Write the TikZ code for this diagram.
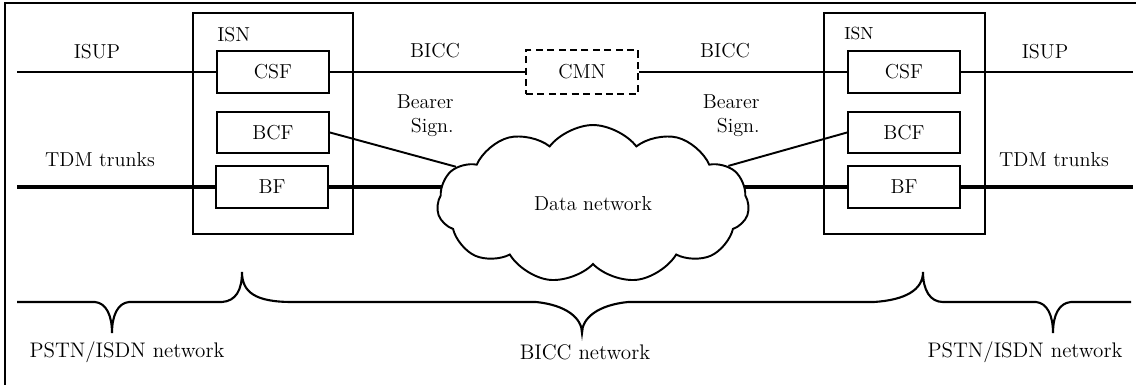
\documentclass[tikz,border=0pt]{standalone}
\usetikzlibrary{shapes.symbols}
\tikzset{
    txt/.style={font=\fontsize{11.5}{14}\selectfont},
    fnbox/.style={
        draw, line width=1.1pt, inner sep=0pt,
        minimum width=2.24cm, minimum height=0.83cm,
        font=\fontsize{11.5}{14}\selectfont
    },
    isnbox/.style={
        draw, line width=1.1pt, inner sep=0pt,
        minimum width=3.21cm, minimum height=4.42cm
    },
    sig/.style={line width=1.1pt},
    trunk/.style={line width=2.8pt},
    brace/.style={line width=1.2pt}
}
\begin{document}
\begin{tikzpicture}[x=0.02cm,y=-0.02cm]
\useasboundingbox (0,0) rectangle (1136,385);
\draw[line width=0.6pt] (5,385) -- (5,3) -- (1136,3);
\node[isnbox] (lisn) at (273,123.5) {};
\node[isnbox] (risn) at (904.5,123.5) {};
\node[txt,anchor=west,inner sep=0pt] (lisnlab) at (217,35) {ISN};
\node[anchor=west,inner sep=0pt,font=\fontsize{10}{12}\selectfont] (risnlab) at (844,34) {ISN};
\node[fnbox,fill=white] (lcsf) at (273,72) {CSF};
\node[fnbox,fill=white] (lbcf) at (273,132.5) {BCF};
\node[fnbox,fill=white] (lbf) at (272,187) {BF};
\node[fnbox,fill=white] (rcsf) at (904,72) {CSF};
\node[fnbox,fill=white] (rbcf) at (904,132.5) {BCF};
\node[fnbox,fill=white] (rbf) at (904,187) {BF};
\node[fnbox,dashed,line width=1.6pt,dash pattern=on 4pt off 2.5pt,minimum height=0.88cm] (cmn) at (582,72) {CMN};
\coordinate (isupl) at (17,72);
\coordinate (isupr) at (1133,72);
\coordinate (tdml) at (17,187);
\coordinate (tdmr) at (1133,187);
\draw[sig] (isupl) -- (lcsf.west);
\draw[sig] (lcsf.east) -- (cmn.west);
\draw[sig] (cmn.east) -- (rcsf.west);
\draw[sig] (rcsf.east) -- (isupr);
\draw[trunk] (tdml) -- (lbf.west);
\draw[trunk] (lbf.east) -- (rbf.west);
\draw[trunk] (rbf.east) -- (tdmr);
\node[cloud,draw,fill=white,line width=1.1pt,cloud puffs=11,cloud puff arc=105,aspect=2,
      minimum width=6.24cm,minimum height=3.16cm,inner sep=0pt,txt] (datanet) at (593,204) {Data network};
\draw[sig] (lbcf.east) -- (datanet);
\draw[sig] (rbcf.west) -- (datanet);
\node[txt] (isupltxt) at (97,52) {ISUP};
\node[txt] (isuprtxt) at (1045,52) {ISUP};
\node[txt] (bicclt) at (435,51) {BICC};
\node[txt] (biccrt) at (725,51) {BICC};
\node[txt,align=right,anchor=north east,inner sep=0pt] (bearl) at (454,94) {Bearer\\Sign.};
\node[txt,align=right,anchor=north east,inner sep=0pt] (bearr) at (760,94) {Bearer\\Sign.};
\node[txt] (tdmltxt) at (100,160) {TDM trunks};
\node[txt] (tdmrtxt) at (1054,160) {TDM trunks};
\draw[brace] (17,302) -- (95,302) .. controls (106,303) and (112,315) .. (112,333)
    .. controls (112,315) and (118,303) .. (129,302) -- (222,302)
    .. controls (236,301) and (242,290) .. (242,272)
    .. controls (242,292) and (255,302) .. (292,302) -- (536,302)
    .. controls (566,305) and (582,318) .. (582,333)
    .. controls (582,318) and (598,305) .. (628,302) -- (874,302)
    .. controls (905,300) and (923,290) .. (923,272)
    .. controls (923,290) and (930,302) .. (943,302) -- (1036,302)
    .. controls (1047,303) and (1053,315) .. (1053,333)
    .. controls (1053,315) and (1059,303) .. (1071,302) -- (1131,302);
\node[txt,font=\fontsize{12}{14}\selectfont] (pstnl) at (127,352) {PSTN/ISDN network};
\node[txt,font=\fontsize{12}{14}\selectfont] (bicc) at (585,352) {BICC network};
\node[txt,font=\fontsize{12}{14}\selectfont] (pstnr) at (1025,352) {PSTN/ISDN network};
\end{tikzpicture}
\end{document}
